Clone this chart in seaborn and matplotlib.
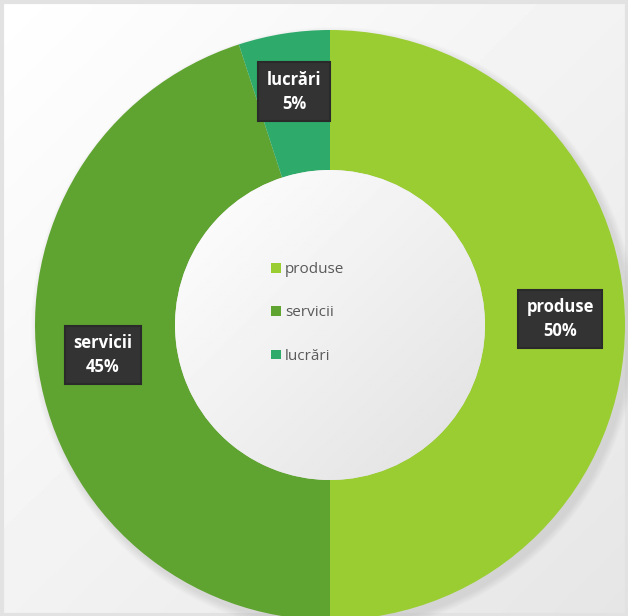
import numpy as np
import matplotlib
matplotlib.use("Agg")
import matplotlib.pyplot as plt
import seaborn as sns
from matplotlib.patches import Circle, Patch

categories = ["produse", "servicii", "lucrări"]
values = [50, 45, 5]
colors = ["#9ACD32", "#5FA330", "#2EAA6A"]

sns.set_theme(style="white")
plt.rcParams["font.family"] = ["Open Sans", "DejaVu Sans"]

W, H = 628, 616
fig = plt.figure(figsize=(W / 100, H / 100), dpi=100)
ax = fig.add_axes([0, 0, 1, 1])
ax.set_xlim(0, W)
ax.set_ylim(0, H)
ax.set_aspect("equal")
ax.axis("off")

# background gradient (white top-left -> light grey bottom-right)
yy, xx = np.mgrid[0:1:200j, 0:1:200j]
g = 1.0 - 0.10 * (xx + yy) / 2
ax.imshow(g, cmap="gray", vmin=0, vmax=1, extent=[0, W, 0, H], origin="upper", zorder=0)
ax.add_patch(plt.Rectangle((1.5, 1.5), W - 3, H - 3, fill=False, ec="#e2e2e2", lw=3, zorder=1))

cx, cy, R = 330, H - 325, 295
rin = 155

# soft shadow
for k in range(8):
    ax.add_patch(Circle((cx + 4, cy - 5), R + 8 - k, color="#9a9a9a", alpha=0.03, lw=0, zorder=1.5))

wedges, _ = ax.pie(values, colors=colors, startangle=90, counterclock=False,
                   center=(cx, cy), radius=R, wedgeprops=dict(width=R - rin, lw=0),
                   frame=True)
for w in wedges:
    w.set_zorder(2)
ax.set_xlim(0, W)
ax.set_ylim(0, H)
ax.axis("off")

# hole gradient
hole = Circle((cx, cy), rin, transform=ax.transData, fc="none", lw=0)
ax.add_patch(hole)
hg = 1.0 - 0.12 * (xx + yy) / 2
im = ax.imshow(hg, cmap="gray", vmin=0, vmax=1,
               extent=[cx - rin, cx + rin, cy - rin, cy + rin], origin="upper", zorder=3)
im.set_clip_path(hole)
ax.set_xlim(0, W)
ax.set_ylim(0, H)

# data labels
total = sum(values)
start = 90
for cat, v in zip(categories, values):
    ang = np.deg2rad(start - v / total * 360 / 2)
    start -= v / total * 360
    r = 0.78 * R
    x, y = cx + r * np.cos(ang), cy + r * np.sin(ang) + 6
    txt = f"{cat}\n{v}%"
    ax.text(x, y, txt, ha="center", va="center", fontsize=12, fontweight="bold",
            color="white", linespacing=1.45,
            bbox=dict(boxstyle="square,pad=0.5", fc="#333333", ec="#2a2a2a", lw=1.5),
            zorder=5)

handles = [Patch(fc=c, ec="none") for c in colors]
leg = ax.legend(handles, categories, loc="center", bbox_to_anchor=(308 / W, 1 - 313 / H),
                bbox_transform=fig.transFigure, frameon=False, fontsize=11,
                labelcolor="#595959", handlelength=0.6, handleheight=0.6,
                handletextpad=0.3, labelspacing=1.85)
leg.set_zorder(6)

fig.savefig("out.png", dpi=100)
